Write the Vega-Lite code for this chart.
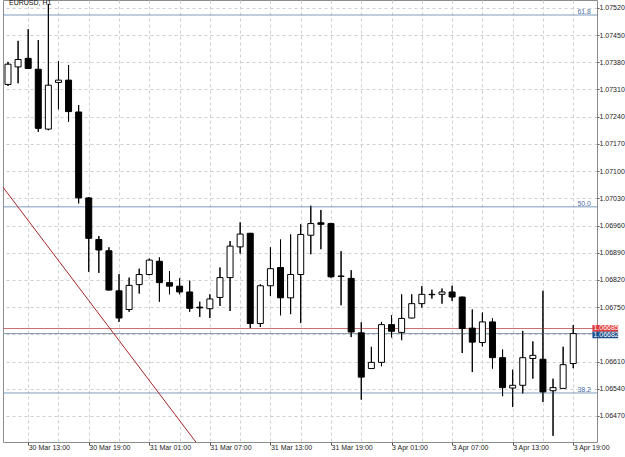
{
  "$schema": "https://vega.github.io/schema/vega-lite/v6.json",
  "width": 594,
  "height": 442,
  "autosize": {"type": "none"},
  "padding": {"left": 3, "top": 0, "right": 28, "bottom": 15},
  "background": "white",
  "config": {
    "view": {"stroke": "#8c8c8c"},
    "font": "Liberation Sans",
    "axis": {"labelFlush": false, "labelBound": false, "title": null}
  },
  "datasets": {
    "candles": [
      {"i": 0, "open": 1.07323, "high": 1.07381, "low": 1.07319, "close": 1.07375},
      {"i": 1, "open": 1.07368, "high": 1.07435, "low": 1.07326, "close": 1.07387},
      {"i": 2, "open": 1.07390, "high": 1.07465, "low": 1.07363, "close": 1.07364},
      {"i": 3, "open": 1.07362, "high": 1.07437, "low": 1.07201, "close": 1.07210},
      {"i": 4, "open": 1.07208, "high": 1.07530, "low": 1.07205, "close": 1.07321},
      {"i": 5, "open": 1.07328, "high": 1.07383, "low": 1.07259, "close": 1.07334},
      {"i": 6, "open": 1.07334, "high": 1.07373, "low": 1.07227, "close": 1.07253},
      {"i": 7, "open": 1.07252, "high": 1.07270, "low": 1.07017, "close": 1.07031},
      {"i": 8, "open": 1.07031, "high": 1.07033, "low": 1.06841, "close": 1.06927},
      {"i": 9, "open": 1.06924, "high": 1.06933, "low": 1.06838, "close": 1.06897},
      {"i": 10, "open": 1.06895, "high": 1.06904, "low": 1.06793, "close": 1.06794},
      {"i": 11, "open": 1.06792, "high": 1.06835, "low": 1.06712, "close": 1.06722},
      {"i": 12, "open": 1.06744, "high": 1.06826, "low": 1.06738, "close": 1.06806},
      {"i": 13, "open": 1.06808, "high": 1.06849, "low": 1.06785, "close": 1.06834},
      {"i": 14, "open": 1.06834, "high": 1.06875, "low": 1.06832, "close": 1.06871},
      {"i": 15, "open": 1.06868, "high": 1.06878, "low": 1.06764, "close": 1.06813},
      {"i": 16, "open": 1.06813, "high": 1.06843, "low": 1.06783, "close": 1.06804},
      {"i": 17, "open": 1.06804, "high": 1.06824, "low": 1.06783, "close": 1.06789},
      {"i": 18, "open": 1.06789, "high": 1.06818, "low": 1.06738, "close": 1.06747},
      {"i": 19, "open": 1.06750, "high": 1.06764, "low": 1.06725, "close": 1.06748},
      {"i": 20, "open": 1.06746, "high": 1.06783, "low": 1.06722, "close": 1.06771},
      {"i": 21, "open": 1.06775, "high": 1.06852, "low": 1.06753, "close": 1.06826},
      {"i": 22, "open": 1.06826, "high": 1.06920, "low": 1.06740, "close": 1.06907},
      {"i": 23, "open": 1.06905, "high": 1.06968, "low": 1.06888, "close": 1.06938},
      {"i": 24, "open": 1.06940, "high": 1.06941, "low": 1.06696, "close": 1.06708},
      {"i": 25, "open": 1.06708, "high": 1.06809, "low": 1.06699, "close": 1.06805},
      {"i": 26, "open": 1.06805, "high": 1.06904, "low": 1.06779, "close": 1.06849},
      {"i": 27, "open": 1.06852, "high": 1.06924, "low": 1.06729, "close": 1.06774},
      {"i": 28, "open": 1.06774, "high": 1.06937, "low": 1.06732, "close": 1.06834},
      {"i": 29, "open": 1.06834, "high": 1.06963, "low": 1.06709, "close": 1.06937},
      {"i": 30, "open": 1.06935, "high": 1.07011, "low": 1.06886, "close": 1.06965},
      {"i": 31, "open": 1.06967, "high": 1.07000, "low": 1.06899, "close": 1.06963},
      {"i": 32, "open": 1.06965, "high": 1.06967, "low": 1.06826, "close": 1.06828},
      {"i": 33, "open": 1.06830, "high": 1.06894, "low": 1.06755, "close": 1.06829},
      {"i": 34, "open": 1.06824, "high": 1.06845, "low": 1.06673, "close": 1.06686},
      {"i": 35, "open": 1.06684, "high": 1.06711, "low": 1.06512, "close": 1.06570},
      {"i": 36, "open": 1.06592, "high": 1.06648, "low": 1.06591, "close": 1.06608},
      {"i": 37, "open": 1.06608, "high": 1.06712, "low": 1.06598, "close": 1.06705},
      {"i": 38, "open": 1.06705, "high": 1.06729, "low": 1.06672, "close": 1.06688},
      {"i": 39, "open": 1.06685, "high": 1.06783, "low": 1.06665, "close": 1.06721},
      {"i": 40, "open": 1.06722, "high": 1.06783, "low": 1.06721, "close": 1.06759},
      {"i": 41, "open": 1.06759, "high": 1.06804, "low": 1.06749, "close": 1.06783},
      {"i": 42, "open": 1.06782, "high": 1.06795, "low": 1.06772, "close": 1.06783},
      {"i": 43, "open": 1.06783, "high": 1.06798, "low": 1.06759, "close": 1.06789},
      {"i": 44, "open": 1.06789, "high": 1.06805, "low": 1.06766, "close": 1.06776},
      {"i": 45, "open": 1.06776, "high": 1.06777, "low": 1.06632, "close": 1.06695},
      {"i": 46, "open": 1.06696, "high": 1.06744, "low": 1.06583, "close": 1.06660},
      {"i": 47, "open": 1.06659, "high": 1.06736, "low": 1.06649, "close": 1.06712},
      {"i": 48, "open": 1.06712, "high": 1.06721, "low": 1.06592, "close": 1.06620},
      {"i": 49, "open": 1.06620, "high": 1.06641, "low": 1.06521, "close": 1.06543},
      {"i": 50, "open": 1.06542, "high": 1.06589, "low": 1.06493, "close": 1.06549},
      {"i": 51, "open": 1.06549, "high": 1.06689, "low": 1.06528, "close": 1.06620},
      {"i": 52, "open": 1.06618, "high": 1.06662, "low": 1.06566, "close": 1.06626},
      {"i": 53, "open": 1.06616, "high": 1.06792, "low": 1.06506, "close": 1.06532},
      {"i": 54, "open": 1.06535, "high": 1.06566, "low": 1.06419, "close": 1.06543},
      {"i": 55, "open": 1.06541, "high": 1.06648, "low": 1.06540, "close": 1.06602},
      {"i": 56, "open": 1.06605, "high": 1.06704, "low": 1.06593, "close": 1.06682}
    ],
    "levels": [
      {"name": "fib61.8", "price": 1.075015},
      {"name": "fib50.0", "price": 1.07008},
      {"name": "fib38.2", "price": 1.065292},
      {"name": "ask", "price": 1.06695},
      {"name": "bid", "price": 1.06682}
    ],
    "fibs": [
      {"label": "61.8", "price": 1.075015},
      {"label": "50.0", "price": 1.07008},
      {"label": "38.2", "price": 1.065292}
    ],
    "trend": [
      {"i": -1, "p": 1.070758},
      {"i": 20, "p": 1.063555}
    ],
    "tags": [
      {"kind": "ask", "label": "1.06685", "top": 1.06704, "bottom": 1.06687, "mid": 1.06696},
      {"kind": "bid", "label": "1.06682", "top": 1.06687, "bottom": 1.06670, "mid": 1.06679}
    ],
    "caption": [
      {"label": "EURUSD, H1"}
    ]
  },
  "layer": [
    {
      "data": {"name": "candles"},
      "mark": {"type": "rule", "color": "#000", "strokeWidth": 1, "clip": true},
      "encoding": {
        "x": {"field": "i", "type": "quantitative", "scale": {"domain": [0, 57.86], "nice": false, "zero": false},
          "axis": {
            "title": null,
            "values": [2, 5, 8, 11, 14, 17, 20, 23, 26, 29, 32, 35, 38, 41, 44, 47, 50, 53, 56],
            "tickCount": 200,
            "labelExpr": "['30 Mar 13:00','','30 Mar 19:00','','31 Mar 01:00','','31 Mar 07:00','','31 Mar 13:00','','31 Mar 19:00','','3 Apr 01:00','','3 Apr 07:00','','3 Apr 13:00','','3 Apr 19:00'][round((datum.value - 2) / 3)]",
            "grid": true, "gridColor": "#cfcfcf", "gridDash": [3, 3], "gridWidth": 1,
            "domain": false, "tickSize": 3,
            "tickColor": {"condition": {"test": "(datum.value - 2) % 6 != 0", "value": "rgba(0,0,0,0)"}, "value": "#555"},
            "labelAlign": "left", "labelBaseline": "top", "labelPadding": -2, "labelOffset": 0,
            "labelFontSize": 7, "labelFont": "Liberation Sans", "labelColor": "#222",
            "labelOverlap": false, "labelFlush": false, "labelBound": false
          }},
        "y": {"field": "low", "type": "quantitative", "scale": {"domain": [1.064031, 1.075401], "nice": false, "zero": false},
          "axis": {
            "title": null, "orient": "right",
            "values": [1.0647, 1.0654, 1.0661, 1.0668, 1.0675, 1.0682, 1.0689, 1.0696, 1.0703, 1.071, 1.0717, 1.0724, 1.0731, 1.0738, 1.0745, 1.0752],
            "tickCount": 200,
            "labelExpr": "abs(datum.value - 1.0668) < 0.00005 ? '' : format(datum.value, '.5f')",
            "grid": true, "gridColor": "#cfcfcf", "gridDash": [3, 3], "gridWidth": 1,
            "domain": false, "tickSize": 2, "tickColor": "#555",
            "labelPadding": 0, "labelBaseline": "middle", "labelAlign": "left",
            "labelFontSize": 7, "labelFont": "Liberation Sans", "labelColor": "#222",
            "labelOverlap": false, "labelFlush": false, "labelBound": false
          }},
        "y2": {"field": "high"}
      }
    },
    {
      "data": {"name": "levels"},
      "mark": {"type": "rule", "strokeWidth": 1},
      "encoding": {
        "y": {"field": "price", "type": "quantitative", "scale": {"domain": [1.064031, 1.075401], "nice": false, "zero": false}},
        "color": {"field": "name", "type": "nominal", "legend": null,
          "scale": {"domain": ["fib61.8", "fib50.0", "fib38.2", "ask", "bid"], "range": ["#7f9bbd", "#7f9bbd", "#7f9bbd", "#c97070", "#8797aa"]}}
      }
    },
    {
      "data": {"name": "trend"},
      "mark": {"type": "line", "color": "#a82828", "strokeWidth": 1, "clip": true},
      "encoding": {
        "x": {"field": "i", "type": "quantitative", "scale": {"domain": [0, 57.86], "nice": false, "zero": false}},
        "y": {"field": "p", "type": "quantitative", "scale": {"domain": [1.064031, 1.075401], "nice": false, "zero": false}}
      }
    },
    {
      "data": {"name": "candles"},
      "mark": {"type": "rule", "color": "#000", "strokeWidth": 1, "clip": true},
      "encoding": {
        "x": {"field": "i", "type": "quantitative", "scale": {"domain": [0, 57.86], "nice": false, "zero": false}},
        "y": {"field": "low", "type": "quantitative", "scale": {"domain": [1.064031, 1.075401], "nice": false, "zero": false}},
        "y2": {"field": "high"}
      }
    },
    {
      "data": {"name": "candles"},
      "mark": {"type": "bar", "width": 6, "stroke": "#000", "strokeWidth": 1, "clip": true, "orient": "vertical"},
      "encoding": {
        "x": {"field": "i", "type": "quantitative", "scale": {"domain": [0, 57.86], "nice": false, "zero": false}},
        "y": {"field": "open", "type": "quantitative", "scale": {"domain": [1.064031, 1.075401], "nice": false, "zero": false}},
        "y2": {"field": "close"},
        "fill": {"condition": {"test": "datum.close < datum.open", "value": "#000"}, "value": "#fff"}
      }
    },
    {
      "data": {"name": "fibs"},
      "mark": {"type": "text", "align": "right", "baseline": "bottom", "fontSize": 7, "font": "Liberation Sans", "color": "#4f72a8", "dx": -1, "dy": 0},
      "encoding": {
        "x": {"datum": 57.86, "type": "quantitative", "scale": {"domain": [0, 57.86], "nice": false, "zero": false}},
        "y": {"field": "price", "type": "quantitative", "scale": {"domain": [1.064031, 1.075401], "nice": false, "zero": false}},
        "text": {"field": "label"}
      }
    },
    {
      "data": {"name": "caption"},
      "mark": {"type": "text", "align": "left", "baseline": "alphabetic", "fontSize": 7, "font": "Liberation Sans", "color": "#111", "dx": 1, "dy": 4.5},
      "encoding": {
        "x": {"datum": 0, "type": "quantitative", "scale": {"domain": [0, 57.86], "nice": false, "zero": false}},
        "y": {"datum": 1.075401, "type": "quantitative", "scale": {"domain": [1.064031, 1.075401], "nice": false, "zero": false}},
        "text": {"field": "label"}
      }
    },
    {
      "data": {"name": "tags"},
      "mark": {"type": "rect"},
      "encoding": {
        "x": {"datum": 57.9, "type": "quantitative", "scale": {"domain": [0, 57.86], "nice": false, "zero": false}},
        "x2": {"datum": 60.45},
        "y": {"field": "top", "type": "quantitative", "scale": {"domain": [1.064031, 1.075401], "nice": false, "zero": false}},
        "y2": {"field": "bottom"},
        "fill": {"field": "kind", "type": "nominal", "legend": null, "scale": {"domain": ["ask", "bid"], "range": ["#e23a3a", "#1f4f8a"]}}
      }
    },
    {
      "data": {"name": "tags"},
      "mark": {"type": "text", "align": "left", "baseline": "middle", "fontSize": 7, "font": "Liberation Sans", "color": "#ffffff", "dx": 1},
      "encoding": {
        "x": {"datum": 57.9, "type": "quantitative", "scale": {"domain": [0, 57.86], "nice": false, "zero": false}},
        "y": {"field": "mid", "type": "quantitative", "scale": {"domain": [1.064031, 1.075401], "nice": false, "zero": false}},
        "text": {"field": "label"}
      }
    }
  ]
}
